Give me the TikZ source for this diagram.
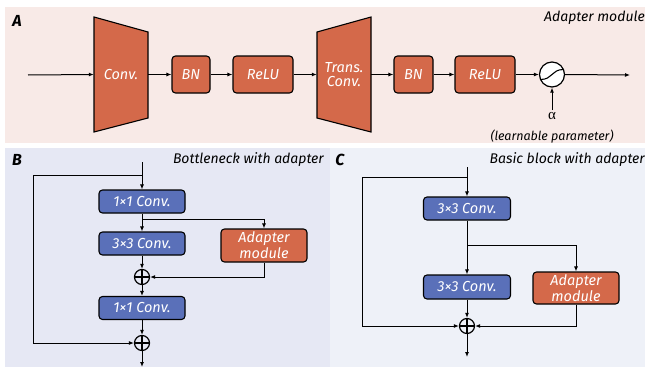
\documentclass[tikz,border=0pt]{standalone}
\usepackage{fontspec}
\setmainfont{Fira Sans}
\newfontfamily\greekserif{Liberation Serif}
\usetikzlibrary{arrows.meta,calc}
\definecolor{adapt}{HTML}{D4694A}
\definecolor{convblue}{HTML}{5A70B9}
\definecolor{bgA}{HTML}{F8EAE7}
\definecolor{bgB}{HTML}{E6E8F4}
\definecolor{bgC}{HTML}{EEF1F8}
\tikzset{
  box/.style={draw=black, line width=1.1pt, rounded corners=3.5pt, text=white,
    font=\itshape\fontsize{14.5}{16}\selectfont, inner sep=0pt, align=center},
  obox/.style={box, fill=adapt},
  bbox/.style={box, fill=convblue},
  trap/.style={fill=adapt, draw=black, line width=1.1pt, line join=miter},
  traplabel/.style={text=white, font=\itshape\fontsize{14.5}{14}\selectfont, inner sep=0pt, align=center},
  arr/.style={-{Latex[length=5pt,width=4pt]}, line width=1pt},
  ln/.style={line width=1pt},
  plus/.style={circle, draw=black, line width=1.2pt, minimum size=15pt, inner sep=0pt, fill=none,
    path picture={
      \draw[line width=1.2pt] (path picture bounding box.north) -- (path picture bounding box.south);
      \draw[line width=1.2pt] (path picture bounding box.west) -- (path picture bounding box.east);}},
  title/.style={font=\itshape\fontsize{14}{16}\selectfont, inner sep=0pt},
  note/.style={font=\itshape\fontsize{12.5}{14}\selectfont, inner sep=0pt},
  tag/.style={font=\bfseries\itshape\fontsize{16}{18}\selectfont, inner sep=0pt},
}
\begin{document}
\begin{tikzpicture}[x=1pt,y=-1pt]
\useasboundingbox (0,0) rectangle (649,367);
% panel backgrounds
\fill[bgA] (5,7) rectangle (645,143);
\fill[bgB] (5,148) rectangle (330,367);
\fill[bgC] (330,148) rectangle (645,367);

% ---------------- Panel A: adapter module ----------------
\node[tag] (tagA) at (17,21) {A};
\node[title, anchor=east] (titleA) at (645,18) {Adapter module};

\coordinate (ain) at (28,75);
\node[minimum width=54pt, minimum height=115pt, inner sep=0pt] (conv) at (121,74.5) {};
\draw[trap] (94,17) -- (148,32) -- (148,118) -- (94,132) -- cycle;
\node[traplabel] (convt) at (conv.center) {Conv.};
\node[obox, minimum width=38pt, minimum height=37pt] (bn1) at (191,74.5) {BN};
\node[obox, minimum width=60pt, minimum height=37pt] (relu1) at (263,74.5) {ReLU};
\node[minimum width=54pt, minimum height=115pt, inner sep=0pt] (tconv) at (344,74.5) {};
\draw[trap] (317,32) -- (371,17) -- (371,132) -- (317,118) -- cycle;
\node[traplabel] (tconvt) at (tconv.center) {Trans.\\Conv.};
\node[obox, minimum width=39pt, minimum height=37pt] (bn2) at (413.5,74.5) {BN};
\node[obox, minimum width=60pt, minimum height=37pt] (relu2) at (485,74.5) {ReLU};
\node[circle, draw=black, line width=1.2pt, fill=white, minimum size=25pt, inner sep=0pt] (sig) at (552,74.5) {};
% sigmoid curve inside the gate
\draw[line width=1.1pt] ($(sig.center)+(-11.5,5)$) .. controls ($(sig.center)+(1,5)$) and ($(sig.center)+(-1,-5)$) .. ($(sig.center)+(11.5,-5)$);
\coordinate (aout) at (630,75);
\node[inner sep=0pt, font=\greekserif\fontsize{15}{15}\selectfont] (alpha) at (552,116) {α};
\node[note] (learn) at (552,136.5) {(learnable parameter)};

\draw[arr] (ain) -- (conv.west);
\draw[arr] (conv.east) -- (bn1.west);
\draw[arr] (bn1.east) -- (relu1.west);
\draw[arr] (relu1.east) -- (tconv.west);
\draw[arr] (tconv.east) -- (bn2.west);
\draw[arr] (bn2.east) -- (relu2.west);
\draw[arr] (relu2.east) -- (sig.west);
\draw[arr] (sig.east) -- (aout);
\draw[arr] (alpha.north) ++(0,-2) -- (sig.south);

% ---------------- Panel B: bottleneck with adapter ----------------
\node[tag] (tagB) at (17,160) {B};
\node[title, anchor=east] (titleB) at (324,160) {Bottleneck with adapter};

\coordinate (bin) at (142,162);
\coordinate (bskip) at (142,175);
\coordinate (bskipl) at (33,175);
\node[bbox, minimum width=86pt, minimum height=23pt] (b1) at (142,201.5) {1×1 Conv.};
\coordinate (bbr) at (142,219);
\node[bbox, minimum width=86pt, minimum height=23pt] (b2) at (142,243.5) {3×3 Conv.};
\node[obox, minimum width=86pt, minimum height=33pt] (bad) at (264,245.5) {Adapter\\module};
\node[plus] (bp1) at (142,277) {};
\node[bbox, minimum width=86pt, minimum height=23pt] (b3) at (142,308) {1×1 Conv.};
\node[plus] (bp2) at (142,343) {};
\coordinate (bout) at (142,367);

\draw[arr] (bin) -- (b1.north);
\draw[ln] (bskip) -- (bskipl);
\draw[arr] (bskipl) |- (bp2.west);
\draw[arr] (b1.south) -- (b2.north);
\draw[arr] (bbr) -| (bad.north);
\draw[arr] (b2.south) -- (bp1.north);
\draw[arr] (bad.south) |- (bp1.east);
\draw[arr] (bp1.south) -- (b3.north);
\draw[arr] (b3.south) -- (bp2.north);
\draw[arr] (bp2.south) -- (bout);

% ---------------- Panel C: basic block with adapter ----------------
\node[tag] (tagC) at (340,160) {C};
\node[title, anchor=east] (titleC) at (645,160) {Basic block with adapter};

\coordinate (cin) at (467,167);
\coordinate (cskip) at (467,177);
\coordinate (cskipl) at (362,177);
\node[bbox, minimum width=87pt, minimum height=23pt] (c1) at (467,208.5) {3×3 Conv.};
\coordinate (cbr) at (467,245);
\node[bbox, minimum width=87pt, minimum height=24pt] (c2) at (467,287) {3×3 Conv.};
\node[obox, minimum width=86pt, minimum height=32pt] (cad) at (576,288) {Adapter\\module};
\node[plus] (cp) at (467,326) {};
\coordinate (cout) at (467,357);

\draw[arr] (cin) -- (c1.north);
\draw[ln] (cskip) -- (cskipl);
\draw[arr] (cskipl) |- (cp.west);
\draw[arr] (c1.south) -- (c2.north);
\draw[arr] (cbr) -| (cad.north);
\draw[arr] (c2.south) -- (cp.north);
\draw[arr] (cad.south) |- (cp.east);
\draw[arr] (cp.south) -- (cout);
\end{tikzpicture}
\end{document}
